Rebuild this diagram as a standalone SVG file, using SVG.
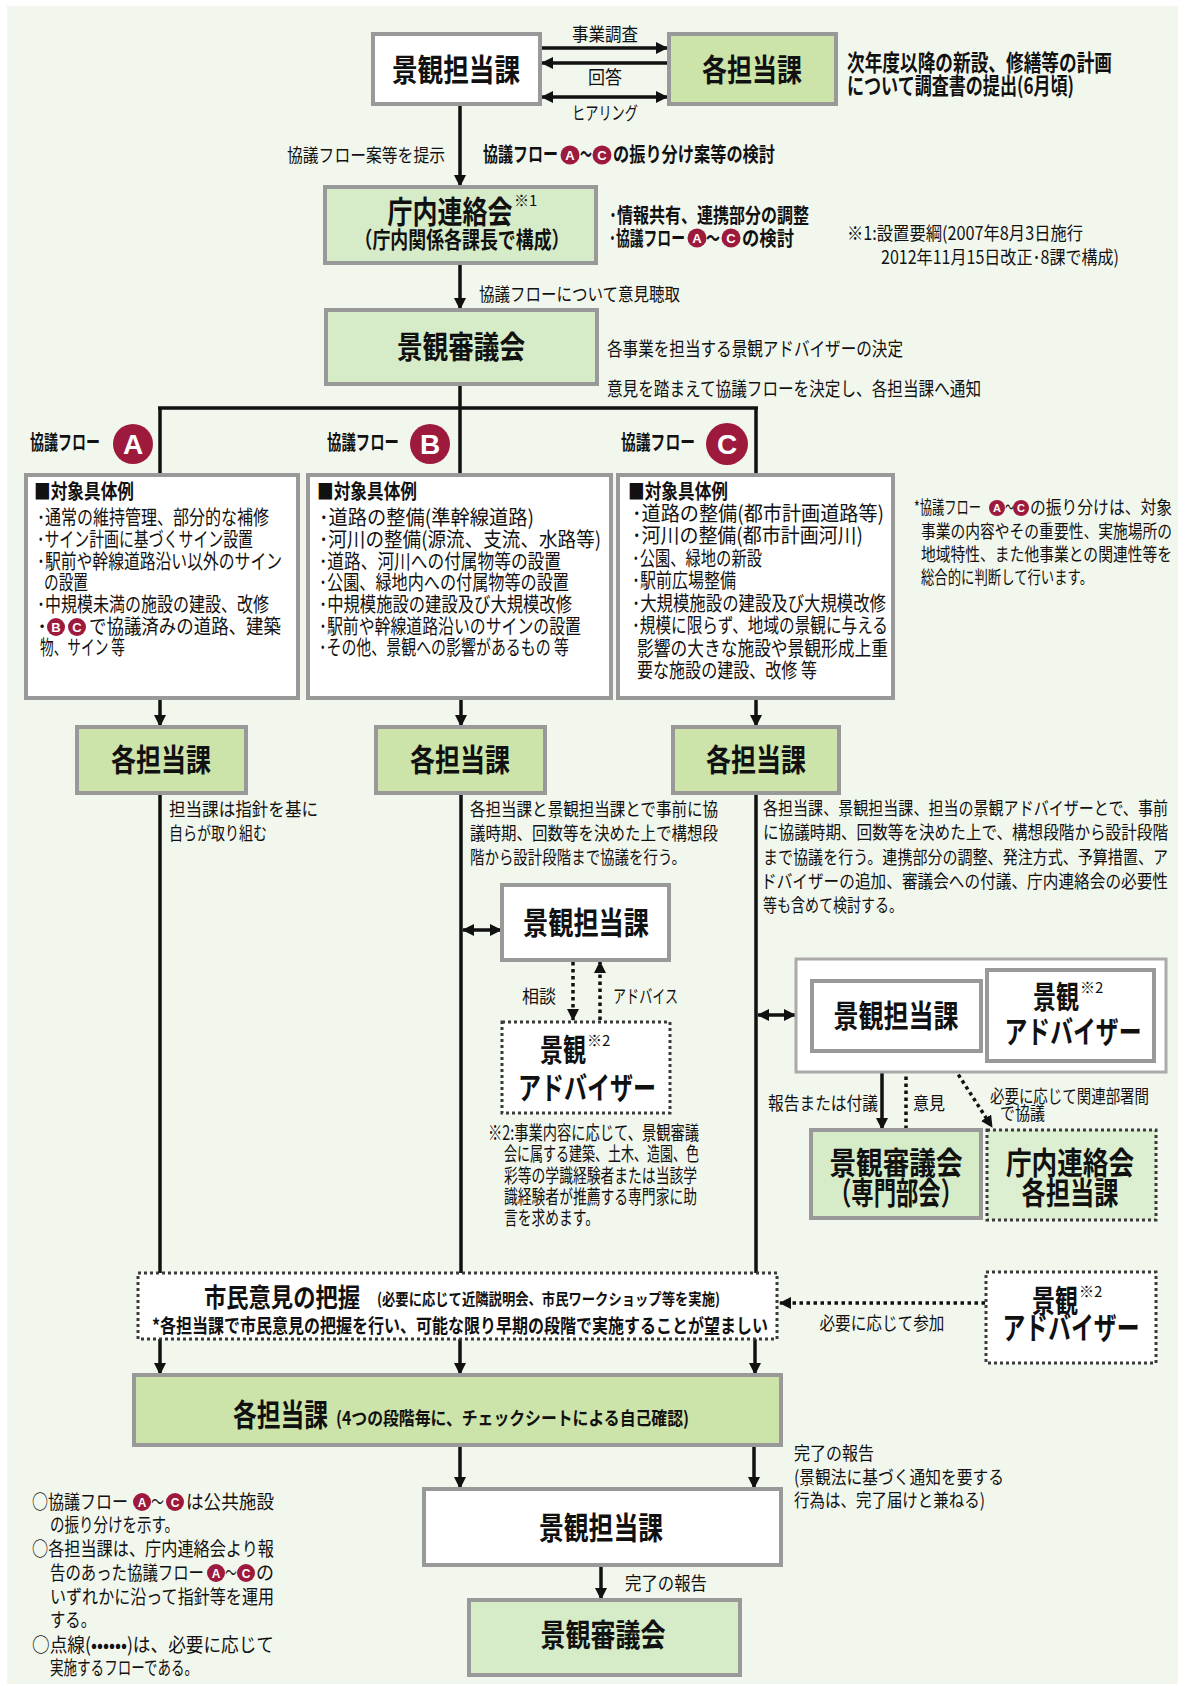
<svg xmlns="http://www.w3.org/2000/svg" width="1186" height="1686" viewBox="0 0 1186 1686">
<defs>
<style>
text{font-family:"Noto Sans CJK JP","Noto Sans CJK SC",sans-serif;fill:#111}
.b{font-weight:700}
.hd{font-size:31px;font-weight:700;text-anchor:middle}
.m{text-anchor:middle}
.e{text-anchor:end}
.f21{font-size:22.5px}
.f19{font-size:20.5px}
.f18{font-size:19.5px}
.f17{font-size:18.5px}
.f16{font-size:18px}
.f15{font-size:16px}
.sup{font-size:15px}
.box{stroke:#999;stroke-width:4}
.wh{fill:#fff}
.gr{fill:#cce3aa}
.lg{fill:#d6ebc8}
.dt{stroke:#3a3a3a;stroke-width:3;stroke-dasharray:3 3}
.ln{stroke:#111;stroke-width:3.5;fill:none}
.dl{stroke:#111;stroke-width:3.5;fill:none;stroke-dasharray:3.5 3.5}
.badge{fill:#9e1a3d}
.bl{fill:#fff;font-weight:700;text-anchor:middle;font-family:"Liberation Sans",sans-serif}
</style>
<marker id="ah" viewBox="0 0 12 12" refX="11" refY="6" markerWidth="12" markerHeight="12" markerUnits="userSpaceOnUse" orient="auto-start-reverse"><path d="M0,0 L12,6 L0,12 z" fill="#111"/></marker>
</defs>
<rect x="7" y="6" width="1171" height="1678" fill="#f2f7ee"/>

<g id="connectors">
<line class="ln" x1="541" y1="48" x2="667" y2="48" marker-end="url(#ah)"/>
<line class="ln" x1="668" y1="63" x2="542" y2="63" marker-end="url(#ah)"/>
<line class="ln" x1="542" y1="97" x2="667" y2="97" marker-start="url(#ah)" marker-end="url(#ah)"/>
<line class="ln" x1="460" y1="104" x2="460" y2="186" marker-end="url(#ah)"/>
<line class="ln" x1="460" y1="263" x2="460" y2="309" marker-end="url(#ah)"/>
<path class="ln" d="M460,384 V408 M158,408 H758 M160,408 V474 M460,408 V474 M756,408 V474"/>
<line class="ln" x1="160" y1="698" x2="160" y2="726" marker-end="url(#ah)"/>
<line class="ln" x1="461" y1="698" x2="461" y2="726" marker-end="url(#ah)"/>
<line class="ln" x1="756" y1="698" x2="756" y2="726" marker-end="url(#ah)"/>
<line class="ln" x1="160" y1="793" x2="160" y2="1273"/>
<line class="ln" x1="461" y1="793" x2="461" y2="1273"/>
<line class="ln" x1="756" y1="793" x2="756" y2="1273"/>
<line class="ln" x1="463" y1="930" x2="501" y2="930" marker-start="url(#ah)" marker-end="url(#ah)"/>
<line class="dl" x1="573" y1="962" x2="573" y2="1020" marker-end="url(#ah)"/>
<line class="dl" x1="600" y1="1020" x2="600" y2="962" marker-end="url(#ah)"/>
<line class="ln" x1="758" y1="1015" x2="795" y2="1015" marker-start="url(#ah)" marker-end="url(#ah)"/>
<line class="ln" x1="882" y1="1052" x2="882" y2="1129" marker-end="url(#ah)"/>
<line class="dl" x1="906" y1="1129" x2="906" y2="1053" marker-end="url(#ah)"/>
<line class="dl" x1="947" y1="1057" x2="992" y2="1127" marker-start="url(#ah)" marker-end="url(#ah)"/>
<line class="ln" x1="160" y1="1339" x2="160" y2="1374" marker-end="url(#ah)"/>
<line class="ln" x1="460" y1="1339" x2="460" y2="1374" marker-end="url(#ah)"/>
<line class="ln" x1="755" y1="1339" x2="755" y2="1374" marker-end="url(#ah)"/>
<line class="dl" x1="985" y1="1303" x2="780" y2="1303" marker-end="url(#ah)"/>
<line class="ln" x1="460" y1="1445" x2="460" y2="1488" marker-end="url(#ah)"/>
<line class="ln" x1="754" y1="1445" x2="754" y2="1488" marker-end="url(#ah)"/>
<line class="ln" x1="601" y1="1565" x2="601" y2="1599" marker-end="url(#ah)"/>
</g>

<g id="labels">
<text class="f17 m" x="605" y="41" textLength="66" lengthAdjust="spacingAndGlyphs">事業調査</text>
<text class="f17 m" x="605" y="84" textLength="34" lengthAdjust="spacingAndGlyphs">回答</text>
<text class="f17 m" x="605" y="120" textLength="66" lengthAdjust="spacingAndGlyphs">ヒアリング</text>
<text class="f21 b" x="847" y="71" textLength="265" lengthAdjust="spacingAndGlyphs">次年度以降の新設、修繕等の計画</text>
<text class="f21 b" x="847" y="94" textLength="227" lengthAdjust="spacingAndGlyphs">について調査書の提出(6月頃)</text>
<text class="f17" x="287" y="162" textLength="158" lengthAdjust="spacingAndGlyphs">協議フロー案等を提示</text>
<text class="f19 b" x="483" y="162" textLength="75" lengthAdjust="spacingAndGlyphs">協議フロー</text>
<circle class="badge" cx="570" cy="155" r="9.5"/><text class="bl" x="570" y="160" font-size="13">A</text>
<text class="f19 b" x="580" y="162" textLength="12" lengthAdjust="spacingAndGlyphs">～</text>
<circle class="badge" cx="602" cy="155" r="9.5"/><text class="bl" x="602" y="160" font-size="13">C</text>
<text class="f19 b" x="613" y="162" textLength="162" lengthAdjust="spacingAndGlyphs">の振り分け案等の検討</text>

<text class="f19 b" x="609" y="223" textLength="200" lengthAdjust="spacingAndGlyphs">･情報共有、連携部分の調整</text>
<text class="f19 b" x="609" y="246" textLength="76" lengthAdjust="spacingAndGlyphs">･協議フロー</text>
<circle class="badge" cx="697" cy="238" r="9.5"/><text class="bl" x="697" y="243" font-size="13">A</text>
<text class="f19 b" x="706" y="246" textLength="14" lengthAdjust="spacingAndGlyphs">～</text>
<circle class="badge" cx="731" cy="238" r="9.5"/><text class="bl" x="731" y="243" font-size="13">C</text>
<text class="f19 b" x="742" y="246" textLength="52" lengthAdjust="spacingAndGlyphs">の検討</text>
<text class="f17" x="847" y="240" textLength="236" lengthAdjust="spacingAndGlyphs">※1:設置要綱(2007年8月3日施行</text>
<text class="f17" x="881" y="264" textLength="238" lengthAdjust="spacingAndGlyphs">2012年11月15日改正･8課で構成)</text>

<text class="f17" x="479" y="301" textLength="201" lengthAdjust="spacingAndGlyphs">協議フローについて意見聴取</text>
<text class="f18" x="607" y="356" textLength="296" lengthAdjust="spacingAndGlyphs">各事業を担当する景観アドバイザーの決定</text>
<text class="f18" x="607" y="396" textLength="374" lengthAdjust="spacingAndGlyphs">意見を踏まえて協議フローを決定し、各担当課へ通知</text>

<text class="f19 b" x="30" y="450" textLength="70" lengthAdjust="spacingAndGlyphs">協議フロー</text>
<circle class="badge" cx="133" cy="444" r="20"/><text class="bl" x="133" y="454" font-size="28">A</text>
<text class="f19 b" x="327" y="450" textLength="72" lengthAdjust="spacingAndGlyphs">協議フロー</text>
<circle class="badge" cx="430" cy="444" r="20"/><text class="bl" x="430" y="454" font-size="28">B</text>
<text class="f19 b" x="621" y="450" textLength="74" lengthAdjust="spacingAndGlyphs">協議フロー</text>
<circle class="badge" cx="727" cy="444" r="21"/><text class="bl" x="727" y="454" font-size="28">C</text>

<text class="f16" x="914" y="514" textLength="67" lengthAdjust="spacingAndGlyphs">*協議フロー</text>
<circle class="badge" cx="997" cy="508" r="8"/><text class="bl" x="997" y="512" font-size="11">A</text>
<text class="f16" x="1005" y="514" textLength="9" lengthAdjust="spacingAndGlyphs">～</text>
<circle class="badge" cx="1021" cy="508" r="8"/><text class="bl" x="1021" y="512" font-size="11">C</text>
<text class="f16" x="1030" y="514" textLength="142" lengthAdjust="spacingAndGlyphs">の振り分けは、対象</text>
<text class="f16" x="921" y="538" textLength="251" lengthAdjust="spacingAndGlyphs">事業の内容やその重要性、実施場所の</text>
<text class="f16" x="921" y="561" textLength="251" lengthAdjust="spacingAndGlyphs">地域特性、また他事業との関連性等を</text>
<text class="f16" x="921" y="584" textLength="172" lengthAdjust="spacingAndGlyphs">総合的に判断して行います。</text>

<text class="f17" x="169" y="816" textLength="149" lengthAdjust="spacingAndGlyphs">担当課は指針を基に</text>
<text class="f17" x="169" y="840" textLength="98" lengthAdjust="spacingAndGlyphs">自らが取り組む</text>
<text class="f17" x="470" y="816" textLength="248" lengthAdjust="spacingAndGlyphs">各担当課と景観担当課とで事前に協</text>
<text class="f17" x="470" y="840" textLength="248" lengthAdjust="spacingAndGlyphs">議時期、回数等を決めた上で構想段</text>
<text class="f17" x="470" y="864" textLength="216" lengthAdjust="spacingAndGlyphs">階から設計段階まで協議を行う。</text>
<text class="f17" x="763" y="815" textLength="405" lengthAdjust="spacingAndGlyphs">各担当課、景観担当課、担当の景観アドバイザーとで、事前</text>
<text class="f17" x="763" y="839" textLength="405" lengthAdjust="spacingAndGlyphs">に協議時期、回数等を決めた上で、構想段階から設計段階</text>
<text class="f17" x="763" y="864" textLength="405" lengthAdjust="spacingAndGlyphs">まで協議を行う。連携部分の調整、発注方式、予算措置、ア</text>
<text class="f17" x="761" y="888" textLength="407" lengthAdjust="spacingAndGlyphs">ドバイザーの追加、審議会への付議、庁内連絡会の必要性</text>
<text class="f17" x="763" y="912" textLength="140" lengthAdjust="spacingAndGlyphs">等も含めて検討する。</text>

<text class="f17 e" x="556" y="1003" textLength="34" lengthAdjust="spacingAndGlyphs">相談</text>
<text class="f17" x="613" y="1003" textLength="65" lengthAdjust="spacingAndGlyphs">アドバイス</text>
<text class="f18" x="488" y="1140" textLength="211" lengthAdjust="spacingAndGlyphs">※2:事業内容に応じて、景観審議</text>
<text class="f18" x="504" y="1161" textLength="195" lengthAdjust="spacingAndGlyphs">会に属する建築、土木、造園、色</text>
<text class="f18" x="504" y="1183" textLength="193" lengthAdjust="spacingAndGlyphs">彩等の学識経験者または当該学</text>
<text class="f18" x="504" y="1204" textLength="193" lengthAdjust="spacingAndGlyphs">識経験者が推薦する専門家に助</text>
<text class="f18" x="504" y="1225" textLength="95" lengthAdjust="spacingAndGlyphs">言を求めます。</text>

<text class="f16 e" x="878" y="1110" textLength="110" lengthAdjust="spacingAndGlyphs">報告または付議</text>
<text class="f16" x="913" y="1110" textLength="32" lengthAdjust="spacingAndGlyphs">意見</text>
<text class="f16" x="990" y="1103" textLength="159" lengthAdjust="spacingAndGlyphs">必要に応じて関連部署間</text>
<text class="f16" x="1000" y="1120" textLength="45" lengthAdjust="spacingAndGlyphs">で協議</text>

<text class="f17 m" x="882" y="1330" textLength="125" lengthAdjust="spacingAndGlyphs">必要に応じて参加</text>

<text class="f17" x="794" y="1460" textLength="80" lengthAdjust="spacingAndGlyphs">完了の報告</text>
<text class="f17" x="794" y="1484" textLength="210" lengthAdjust="spacingAndGlyphs">(景観法に基づく通知を要する</text>
<text class="f17" x="794" y="1507" textLength="191" lengthAdjust="spacingAndGlyphs">行為は、完了届けと兼ねる)</text>
<text class="f17" x="625" y="1590" textLength="82" lengthAdjust="spacingAndGlyphs">完了の報告</text>

<text class="f18" x="32" y="1509" textLength="96" lengthAdjust="spacingAndGlyphs">○協議フロー</text>
<circle class="badge" cx="142" cy="1502" r="9"/><text class="bl" x="142" y="1507" font-size="12">A</text>
<text class="f18" x="151" y="1509" textLength="13" lengthAdjust="spacingAndGlyphs">～</text>
<circle class="badge" cx="175" cy="1502" r="9"/><text class="bl" x="175" y="1507" font-size="12">C</text>
<text class="f18" x="186" y="1509" textLength="88" lengthAdjust="spacingAndGlyphs">は公共施設</text>
<text class="f18" x="50" y="1532" textLength="129" lengthAdjust="spacingAndGlyphs">の振り分けを示す。</text>
<text class="f18" x="32" y="1556" textLength="242" lengthAdjust="spacingAndGlyphs">○各担当課は、庁内連絡会より報</text>
<text class="f18" x="50" y="1580" textLength="154" lengthAdjust="spacingAndGlyphs">告のあった協議フロー</text>
<circle class="badge" cx="216" cy="1573" r="9"/><text class="bl" x="216" y="1578" font-size="12">A</text>
<text class="f18" x="225" y="1580" textLength="12" lengthAdjust="spacingAndGlyphs">～</text>
<circle class="badge" cx="246" cy="1573" r="9"/><text class="bl" x="246" y="1578" font-size="12">C</text>
<text class="f18" x="256" y="1580" textLength="18" lengthAdjust="spacingAndGlyphs">の</text>
<text class="f18" x="50" y="1604" textLength="224" lengthAdjust="spacingAndGlyphs">いずれかに沿って指針等を運用</text>
<text class="f18" x="50" y="1627" textLength="46" lengthAdjust="spacingAndGlyphs">する。</text>
<text class="f18" x="32" y="1652" textLength="242" lengthAdjust="spacingAndGlyphs">○点線(••••••)は、必要に応じて</text>
<text class="f18" x="50" y="1675" textLength="148" lengthAdjust="spacingAndGlyphs">実施するフローである。</text>
</g>

<g id="n-keikan-top"><rect class="box wh" x="373" y="34" width="167" height="70"/><text class="hd" x="456" y="81" textLength="128" lengthAdjust="spacingAndGlyphs">景観担当課</text></g>
<g id="n-kaku-top"><rect class="box gr" x="669" y="34" width="167" height="70"/><text class="hd" x="752" y="81" textLength="100" lengthAdjust="spacingAndGlyphs">各担当課</text></g>
<g id="n-chonai"><rect class="box lg" x="325" y="187" width="271" height="76"/><text class="hd" x="450" y="223" textLength="125" lengthAdjust="spacingAndGlyphs">庁内連絡会</text><text class="sup" x="514" y="206">※1</text><text class="b m" font-size="22.5" x="462" y="248" textLength="215" lengthAdjust="spacingAndGlyphs">（庁内関係各課長で構成）</text></g>
<g id="n-shingikai"><rect class="box lg" x="326" y="310" width="271" height="74"/><text class="hd" x="461" y="358" textLength="128" lengthAdjust="spacingAndGlyphs">景観審議会</text></g>

<g id="n-box-a"><rect class="box wh" x="26" y="475" width="272" height="223"/>
<text class="f19 b" x="34" y="499" textLength="100" lengthAdjust="spacingAndGlyphs">■対象具体例</text>
<text class="f19" x="37" y="525" textLength="232" lengthAdjust="spacingAndGlyphs">･通常の維持管理、部分的な補修</text>
<text class="f19" x="37" y="547" textLength="216" lengthAdjust="spacingAndGlyphs">･サイン計画に基づくサイン設置</text>
<text class="f19" x="37" y="569" textLength="245" lengthAdjust="spacingAndGlyphs">･駅前や幹線道路沿い以外のサイン</text>
<text class="f19" x="44" y="590" textLength="44" lengthAdjust="spacingAndGlyphs">の設置</text>
<text class="f19" x="37" y="612" textLength="232" lengthAdjust="spacingAndGlyphs">･中規模未満の施設の建設、改修</text>
<text class="f19" x="37" y="634">･</text>
<circle class="badge" cx="56" cy="627" r="9"/><text class="bl" x="56" y="632" font-size="13">B</text>
<circle class="badge" cx="77" cy="627" r="9"/><text class="bl" x="77" y="632" font-size="13">C</text>
<text class="f19" x="89" y="634" textLength="192" lengthAdjust="spacingAndGlyphs">で協議済みの道路、建築</text>
<text class="f19" x="40" y="655" textLength="85" lengthAdjust="spacingAndGlyphs">物、サイン 等</text>
</g>
<g id="n-box-b"><rect class="box wh" x="308" y="475" width="303" height="223"/>
<text class="f19 b" x="317" y="499" textLength="100" lengthAdjust="spacingAndGlyphs">■対象具体例</text>
<text class="f19" x="319" y="525" textLength="215" lengthAdjust="spacingAndGlyphs">･道路の整備(準幹線道路)</text>
<text class="f19" x="319" y="547" textLength="282" lengthAdjust="spacingAndGlyphs">･河川の整備(源流、支流、水路等)</text>
<text class="f19" x="319" y="569" textLength="242" lengthAdjust="spacingAndGlyphs">･道路、河川への付属物等の設置</text>
<text class="f19" x="319" y="590" textLength="250" lengthAdjust="spacingAndGlyphs">･公園、緑地内への付属物等の設置</text>
<text class="f19" x="319" y="612" textLength="253" lengthAdjust="spacingAndGlyphs">･中規模施設の建設及び大規模改修</text>
<text class="f19" x="319" y="634" textLength="262" lengthAdjust="spacingAndGlyphs">･駅前や幹線道路沿いのサインの設置</text>
<text class="f19" x="319" y="655" textLength="250" lengthAdjust="spacingAndGlyphs">･その他、景観への影響があるもの 等</text>
</g>
<g id="n-box-c"><rect class="box wh" x="618" y="475" width="275" height="223"/>
<text class="f19 b" x="628" y="499" textLength="100" lengthAdjust="spacingAndGlyphs">■対象具体例</text>
<text class="f19" x="632" y="521" textLength="252" lengthAdjust="spacingAndGlyphs">･道路の整備(都市計画道路等)</text>
<text class="f19" x="632" y="543" textLength="231" lengthAdjust="spacingAndGlyphs">･河川の整備(都市計画河川)</text>
<text class="f19" x="632" y="566" textLength="130" lengthAdjust="spacingAndGlyphs">･公園、緑地の新設</text>
<text class="f19" x="632" y="588" textLength="104" lengthAdjust="spacingAndGlyphs">･駅前広場整備</text>
<text class="f19" x="632" y="611" textLength="254" lengthAdjust="spacingAndGlyphs">･大規模施設の建設及び大規模改修</text>
<text class="f19" x="632" y="633" textLength="256" lengthAdjust="spacingAndGlyphs">･規模に限らず、地域の景観に与える</text>
<text class="f19" x="637" y="656" textLength="251" lengthAdjust="spacingAndGlyphs">影響の大きな施設や景観形成上重</text>
<text class="f19" x="637" y="678" textLength="180" lengthAdjust="spacingAndGlyphs">要な施設の建設、改修  等</text>
</g>

<g id="n-kaku-a"><rect class="box gr" x="77" y="727" width="169" height="66"/><text class="hd" x="161" y="771" textLength="100" lengthAdjust="spacingAndGlyphs">各担当課</text></g>
<g id="n-kaku-b"><rect class="box gr" x="376" y="727" width="169" height="66"/><text class="hd" x="460" y="771" textLength="100" lengthAdjust="spacingAndGlyphs">各担当課</text></g>
<g id="n-kaku-c"><rect class="box gr" x="673" y="727" width="166" height="66"/><text class="hd" x="756" y="771" textLength="100" lengthAdjust="spacingAndGlyphs">各担当課</text></g>

<g id="n-keikan-b"><rect class="box wh" x="502" y="885" width="167" height="75"/><text class="hd" x="586" y="934" textLength="126" lengthAdjust="spacingAndGlyphs">景観担当課</text></g>
<g id="n-adv-b"><rect class="dt wh" x="502" y="1022" width="168" height="91"/><text class="hd" x="563" y="1061" textLength="46" lengthAdjust="spacingAndGlyphs">景観</text><text class="sup" x="587" y="1046">※2</text><text class="hd" x="587" y="1099" textLength="138" lengthAdjust="spacingAndGlyphs">アドバイザー</text></g>

<g id="n-group-c"><rect x="796" y="959" width="370" height="113" fill="#fff" stroke="#aaa" stroke-width="3"/></g>
<g id="n-keikan-c"><rect class="box wh" x="812" y="981" width="169" height="70"/><text class="hd" x="896" y="1027" textLength="125" lengthAdjust="spacingAndGlyphs">景観担当課</text></g>
<g id="n-adv-c"><rect class="box wh" x="987" y="970" width="167" height="91"/><text class="hd" x="1056" y="1008" textLength="46" lengthAdjust="spacingAndGlyphs">景観</text><text class="sup" x="1080" y="993">※2</text><text class="hd" x="1073" y="1043" textLength="137" lengthAdjust="spacingAndGlyphs">アドバイザー</text></g>
<g id="n-senmon"><rect class="box lg" x="811" y="1130" width="170" height="88"/><text class="hd" x="896" y="1174" textLength="133" lengthAdjust="spacingAndGlyphs">景観審議会</text><text class="hd" x="896" y="1204" textLength="134" lengthAdjust="spacingAndGlyphs">（専門部会）</text></g>
<g id="n-chonai-c"><rect class="dt" fill="#dcefd0" x="987" y="1130" width="169" height="90"/><text class="hd" x="1070" y="1174" textLength="128" lengthAdjust="spacingAndGlyphs">庁内連絡会</text><text class="hd" x="1070" y="1204" textLength="97" lengthAdjust="spacingAndGlyphs">各担当課</text></g>

<g id="n-shimin"><rect class="dt wh" x="138" y="1273" width="639" height="66"/>
<text class="b" font-size="26" x="204" y="1307" textLength="156" lengthAdjust="spacingAndGlyphs">市民意見の把握</text>
<text class="b f15" x="377" y="1305" textLength="343" lengthAdjust="spacingAndGlyphs">(必要に応じて近隣説明会、市民ワークショップ等を実施)</text>
<text class="b f18" x="152" y="1333" textLength="616" lengthAdjust="spacingAndGlyphs">*各担当課で市民意見の把握を行い、可能な限り早期の段階で実施することが望ましい</text>
</g>
<g id="n-adv-shimin"><rect class="dt wh" x="986" y="1272" width="170" height="91"/><text class="hd" x="1055" y="1312" textLength="46" lengthAdjust="spacingAndGlyphs">景観</text><text class="sup" x="1079" y="1297">※2</text><text class="hd" x="1071" y="1339" textLength="137" lengthAdjust="spacingAndGlyphs">アドバイザー</text></g>

<g id="n-kaku-big"><rect class="box gr" x="134" y="1375" width="647" height="70"/>
<text class="b" font-size="31" x="233" y="1426" textLength="95" lengthAdjust="spacingAndGlyphs">各担当課</text>
<text class="b f17" x="336" y="1425" textLength="353" lengthAdjust="spacingAndGlyphs">(4つの段階毎に、チェックシートによる自己確認)</text>
</g>
<g id="n-keikan-bottom"><rect class="box wh" x="424" y="1489" width="357" height="76"/><text class="hd" x="601" y="1539" textLength="124" lengthAdjust="spacingAndGlyphs">景観担当課</text></g>
<g id="n-shingikai-bottom"><rect class="box lg" x="469" y="1600" width="271" height="75"/><text class="hd" x="603" y="1646" textLength="125" lengthAdjust="spacingAndGlyphs">景観審議会</text></g>
</svg>
